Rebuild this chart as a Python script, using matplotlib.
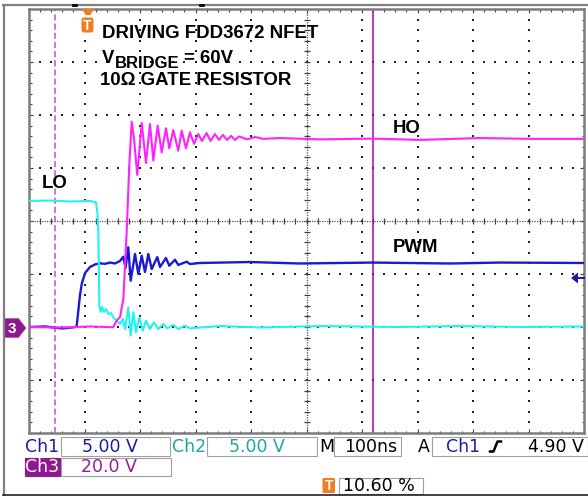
import matplotlib
matplotlib.use('Agg')
import matplotlib.pyplot as plt
import numpy as np
from matplotlib.patches import Rectangle, Polygon, FancyBboxPatch
from matplotlib.ticker import MultipleLocator

# ---------------- data (time in ns, voltage in V) ----------------
pwm_t = [0, 28.8, 59.5, 84.7, 85.9, 89.2, 91.9, 95.0, 100.9, 109.9, 118.9, 127.9,
         136.9, 146.0, 155.0, 164.0, 169.9, 173.9, 178.9, 183.2, 191.0, 197.0,
         203.1, 209.0, 215.0, 221.1, 231.2, 236.0, 246.8, 252.8, 263.1, 269.0,
         284.1, 290.1, 308.1, 398.2, 488.3, 618.0, 758.6, 848.6, 1000]
pwm_v = [0.0, 0.05, -0.14, 0.0, 0.09, 1.70, 3.02, 4.06, 5.09, 5.66, 5.90, 6.01,
         5.96, 6.08, 5.99, 6.23, 6.63, 5.57, 7.52, 4.37, 6.89, 5.00,
         6.73, 5.19, 6.89, 5.47, 6.60, 5.66, 6.51, 5.78, 6.35, 5.85,
         6.16, 5.94, 6.04, 6.13, 5.99, 6.08, 5.99, 6.08, 6.04]

lo_t = [0, 37.8, 73.9, 109.9, 120.7, 123.4, 124.9, 126.1, 126.7, 129.2, 131.5,
        135.1, 138.7, 142.9, 147.7, 151.9, 158.0, 164.0, 168.8, 173.0, 178.9,
        183.2, 187.9, 192.8, 198.7, 204.9, 210.8, 218.0, 225.2, 233.0, 242.0,
        249.2, 260.0, 269.0, 281.0, 290.1, 344.0, 416.0, 524.0, 668.0, 776.6,
        884.7, 1000]
lo_v = [11.89, 11.93, 11.84, 11.89, 11.76, 10.66, 8.96, 4.53, 2.00, 1.42, 1.89,
        1.42, 1.70, 1.23, 1.32, 0.92, 0.59, 0.28, 0.75, -0.19, 1.86,
        -0.82, 1.39, -0.50, 0.92, -0.35, 0.59, -0.19, 0.44, -0.19, 0.28,
        -0.12, 0.19, -0.19, 0.12, -0.12, 0.09, -0.05, 0.09, 0.0, 0.09,
        0.0, 0.05]

ho_t = [0, 55.9, 110.0, 151.4, 158.0, 164.0, 170.0, 176.0, 180.7, 185.0, 189.2,
        195.1, 203.1, 210.8, 218.0, 224.0, 231.9, 239.1, 246.8, 252.8, 260.0,
        269.0, 275.1, 282.9, 290.1, 297.3, 305.0, 311.7, 320.0, 327.0, 335.1,
        342.3, 349.5, 356.8, 364.0, 371.2, 378.4, 392.8, 407.2, 421.6, 452.0,
        524.0, 618.0, 704.5, 812.6, 902.7, 1000]
ho_v = [0.0, -0.2, 0.2, -0.1, 2.4, 3.7, 10.6, 35.9, 60.9, 77.5, 71.0,
        57.4, 77.0, 61.9, 76.6, 62.8, 76.0, 65.9, 75.0, 67.4, 74.3,
        66.5, 74.1, 67.4, 73.5, 69.1, 72.8, 70.2, 73.2, 70.2, 72.8,
        70.6, 72.5, 70.6, 72.1, 70.6, 71.9, 70.8, 71.7, 71.0, 71.3,
        70.8, 71.1, 70.6, 71.3, 71.0, 71.0]

ch_scale = {'Ch1': 5.0, 'Ch2': 5.0, 'Ch3': 20.0}   # V/div
gnd_div = -2.0                                     # ground marker position
cursor_dashed_ns = 46.8
cursor_solid_ns = 619.0

c_blue = '#1a1ad2'
c_cyan = '#22f2f2'
c_mag = '#ff22ff'

fig = plt.figure(figsize=(5.88, 4.96), dpi=100)
fig.patch.set_facecolor('white')

W, H = 588.0, 496.0
bg = fig.add_axes([0, 0, 1, 1], zorder=0)
bg.set_xlim(0, W); bg.set_ylim(H, 0); bg.axis('off')

ax = fig.add_axes([29 / W, (H - 433) / H, 555 / W, 424 / H], zorder=1)
ax.set_xlim(0, 1000); ax.set_ylim(-4, 4)
ax.set_facecolor('white')
for s in ax.spines.values():
    s.set_color('#7d7d7d'); s.set_linewidth(1.8)
ax.xaxis.set_major_locator(MultipleLocator(100))
ax.xaxis.set_minor_locator(MultipleLocator(20))
ax.yaxis.set_major_locator(MultipleLocator(1))
ax.yaxis.set_minor_locator(MultipleLocator(0.2))
ax.tick_params(which='both', direction='in', top=True, right=True,
               labelbottom=False, labelleft=False, color='#404040', width=0.8)
ax.tick_params(which='major', length=3.0)
ax.tick_params(which='minor', length=1.8)

# graticule dots
gy = np.arange(-4, 4.001, 0.2)
gx = np.arange(0, 1000.1, 20)
for k in range(1, 10):
    if k == 5:
        continue
    ax.plot(np.full_like(gy, k * 100), gy, ls='none', marker='s', ms=1.5,
            mew=0, color='#202020', zorder=1)
for j in range(-3, 4):
    if j == 0:
        continue
    ax.plot(gx, np.full_like(gx, j), ls='none', marker='s', ms=1.5,
            mew=0, color='#202020', zorder=1)
# centre cross
ax.plot([0, 1000], [0, 0], ls=(0, (1, 1)), lw=0.9, color='#505050', zorder=1)
ax.plot([500, 500], [-4, 4], ls=(0, (1, 1)), lw=0.9, color='#505050', zorder=1)
ax.plot(gx, np.zeros_like(gx), ls='none', marker='|', ms=4.5, mew=0.9, color='#404040', zorder=1)
ax.plot(np.full_like(gy, 500), gy, ls='none', marker='_', ms=4.5, mew=0.9, color='#404040', zorder=1)

# cursors
ax.axvline(cursor_dashed_ns, color='#c050c0', lw=1.1, ls=(0, (4, 2)), zorder=2)
ax.axvline(cursor_solid_ns, color='#b000b0', lw=1.1, zorder=2)

# traces
def to_div(v, ch):
    return np.asarray(v) / ch_scale[ch] + gnd_div

ax.plot(pwm_t, to_div(pwm_v, 'Ch1'), color=c_blue, lw=1.7, zorder=3)
ax.plot(lo_t, to_div(lo_v, 'Ch2'), color=c_cyan, lw=1.5, zorder=4)
ax.plot(ho_t, to_div(ho_v, 'Ch3'), color=c_mag, lw=1.5, zorder=5)

# ---------------- foreground / decorations in pixel coords ----------------
fg = fig.add_axes([0, 0, 1, 1], zorder=2)
fg.set_xlim(0, W); fg.set_ylim(H, 0); fg.axis('off')
fg.patch.set_alpha(0)

# outer frame
fg.plot([3.5, 3.5], [5, 496], color='#808080', lw=1.6)
fg.plot([3, 588], [5, 5], color='#808080', lw=1.6)
fg.plot([3, 588], [494.5, 494.5], color='#222222', lw=1.2)
fg.plot([73, 76], [5, 5], color='black', lw=2)
fg.plot([200, 203], [5, 5], color='black', lw=2)

af = ['Liberation Sans', 'DejaVu Sans']
fg.text(102, 38, 'DRIVING FDD3672 NFET', fontsize=13.4, fontweight='bold', family=af, va='baseline')
fg.text(102, 63, 'V', fontsize=13.4, fontweight='bold', family=af, va='baseline')
fg.text(115, 67.5, 'BRIDGE', fontsize=12, fontweight='bold', family=af, va='baseline')
fg.text(184, 63, '= 60V', fontsize=13.4, fontweight='bold', family=af, va='baseline')
fg.text(100, 85, '10Ω GATE RESISTOR', fontsize=13.4, fontweight='bold', family=af, va='baseline')
fg.text(393, 133, 'HO', fontsize=13.4, fontweight='bold', family=af, va='baseline')
fg.text(393, 252, 'PWM', fontsize=13.4, fontweight='bold', family=af, va='baseline')
fg.text(41.5, 188.5, 'LO', fontsize=13.4, fontweight='bold', family=af, va='baseline')

orange = '#f07d1e'
# top trigger marker
fg.add_patch(Polygon([(82, 9), (94, 9), (90.5, 15), (85.5, 15)], closed=True,
                     facecolor=orange, edgecolor='none'))
fg.add_patch(FancyBboxPatch((81.5, 17.5), 12, 15, boxstyle='round,pad=0,rounding_size=2.5',
                            facecolor=orange, edgecolor='none'))
fg.text(87.5, 25.5, 'T', color='white', fontsize=10, fontweight='bold', family=af,
        ha='center', va='center')

# ground marker "3"
purple = '#8f178f'
fg.add_patch(Polygon([(4, 318.5), (18.5, 318.5), (26, 328), (18.5, 337.5), (4, 337.5)],
                     closed=True, facecolor=purple, edgecolor='#b060b0', lw=0.6))
fg.text(12.3, 329, '3', color='white', fontsize=11, fontweight='bold', family=af,
        ha='center', va='center')

# trigger level arrow (Ch1)
fg.add_patch(Polygon([(571, 278), (578, 272.5), (578, 283.5)], closed=True,
                     facecolor='#1a1aa0', edgecolor='none'))
fg.plot([577, 584], [278, 278], color='#1a1aa0', lw=1.4)

# readout boxes
box_ec = '#a0a0a0'
def box(x0, y0, x1, y1, fc='white', ec=box_ec):
    fg.add_patch(Rectangle((x0, y0), x1 - x0, y1 - y0, facecolor=fc, edgecolor=ec, lw=0.8))

box(61, 437, 170, 456)
box(207, 437, 317, 456)
box(334, 437, 401, 456)
box(432, 437, 588, 456)
box(25, 457.5, 59.5, 475.5, fc=purple, ec=purple)
box(61, 457.5, 170.5, 475.5)
fg.add_patch(FancyBboxPatch((322.5, 478), 12.5, 15, boxstyle='round,pad=0,rounding_size=1.5',
                            facecolor=orange, edgecolor='none'))
box(339, 477.5, 423, 494)

rf = ['DejaVu Sans']
fs = 12.5
c_ch1 = '#1c1ca0'
c_ch2 = '#1fa3a3'
c_ch3 = '#9a1a9a'
fg.text(25, 452.5, 'Ch1', color=c_ch1, fontsize=fs, family=rf, va='baseline')
fg.text(82, 452.5, '5.00 V', color=c_ch1, fontsize=fs, family=rf, va='baseline')
fg.text(172, 452.5, 'Ch2', color=c_ch2, fontsize=fs, family=rf, va='baseline')
fg.text(229, 452.5, '5.00 V', color=c_ch2, fontsize=fs, family=rf, va='baseline')
fg.text(319, 452.5, 'M', color='black', fontsize=fs, family=rf, va='baseline')
fg.text(344, 452.5, '100ns', color='black', fontsize=fs, family=rf, va='baseline')
fg.text(418, 452.5, 'A', color='black', fontsize=fs, family=rf, va='baseline')
fg.text(446, 452.5, 'Ch1', color=c_ch1, fontsize=fs, family=rf, va='baseline')
fg.plot([490, 493.5, 497.5, 501], [451.5, 451.5, 441.5, 441.5], color='black', lw=1.8)
fg.text(528, 452.5, '4.90 V', color='black', fontsize=fs, family=rf, va='baseline')
fg.text(25.5, 471.5, 'Ch3', color='white', fontsize=fs, family=rf, va='baseline')
fg.text(81, 471.5, '20.0 V', color=c_ch3, fontsize=fs, family=rf, va='baseline')
fg.text(328.7, 486, 'T', color='white', fontsize=10, fontweight='bold', family=af,
        ha='center', va='center')
fg.text(343, 491, '10.60 %', color='black', fontsize=fs, family=rf, va='baseline')

fig.savefig('out.png', dpi=100, facecolor='white')
